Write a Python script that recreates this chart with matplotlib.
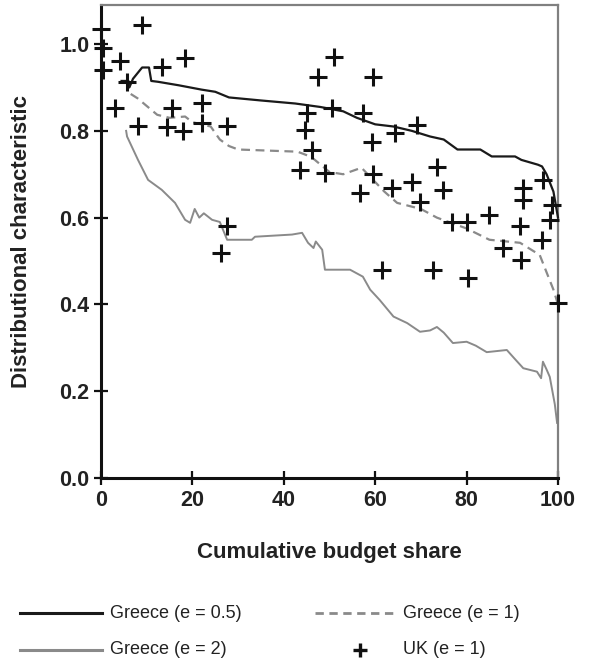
import numpy as np
import matplotlib
matplotlib.use('Agg')
import matplotlib.pyplot as plt
from matplotlib.lines import Line2D

plt.rcParams['font.family'] = ['Liberation Sans', 'DejaVu Sans']

# Greece, e = 0.5 (black solid)
g05_x = [4.5, 6, 6.2, 7, 9, 10.5, 11, 12.5, 17, 22, 25, 28, 35, 42.5, 48, 53, 56, 60, 64, 68,
         72, 75, 78, 83, 85.5, 90.6, 92, 95.6, 96.5, 97.5, 99, 100]
g05_y = [0.915, 0.915, 0.90, 0.92, 0.946, 0.946, 0.915, 0.913, 0.905, 0.895, 0.89, 0.877, 0.87,
         0.863, 0.855, 0.845, 0.83, 0.815, 0.81, 0.80, 0.787, 0.78, 0.757, 0.757, 0.741, 0.741,
         0.733, 0.722, 0.718, 0.70, 0.66, 0.60]

# Greece, e = 1 (grey dashed)
g1_x = [6.5, 8, 12.3, 15, 18.4, 20, 24, 26, 28, 30, 43, 46, 50, 53, 57, 62, 64.8, 70, 73.5,
        80, 85, 91.7, 96, 99, 100]
g1_y = [0.885, 0.875, 0.837, 0.83, 0.833, 0.82, 0.81, 0.78, 0.765, 0.757, 0.752, 0.74,
        0.705, 0.70, 0.715, 0.66, 0.634, 0.62, 0.60, 0.575, 0.549, 0.542, 0.514, 0.434, 0.40]

# Greece, e = 2 (grey solid)
g2_x = [5.5, 5.7, 8.1, 10.3, 13.3, 16.2, 18.4, 19.5, 20.5, 21.5, 22.5, 24.3, 26, 27.6,
        33, 33.7, 41.8, 44, 45.3, 46.5, 47, 48.4, 49, 54.5, 57.3, 58.9, 61, 64, 67, 69.8, 72,
        73.5, 75, 77, 80, 82, 84.4, 88.8, 90.5, 92.4, 95.4, 96.3, 96.7, 97.5, 98.2, 99.3, 99.8]
g2_y = [0.80, 0.787, 0.733, 0.687, 0.664, 0.634, 0.595, 0.588, 0.62, 0.60,
        0.61, 0.595, 0.59, 0.549, 0.549, 0.556, 0.561, 0.565, 0.542, 0.53, 0.545, 0.526, 0.48,
        0.48, 0.464, 0.434, 0.41, 0.372, 0.357, 0.337, 0.34, 0.348, 0.335, 0.311, 0.314, 0.305,
        0.29, 0.295, 0.275, 0.253, 0.245, 0.23, 0.268, 0.25, 0.233, 0.17, 0.127]

# UK, e = 1 (crosses)
uk_x = [0.0, 8.9, 0.5, 4.2, 0.4, 13.3, 18.4, 5.6, 3.1, 8.1, 15.5, 22.0, 14.4, 22.0, 18.0, 27.5,
        27.5, 26.3, 47.5, 51.0, 45.0, 44.6, 46.1, 43.5, 49.0, 50.5, 59.5, 57.3, 64.3, 69.1, 59.2,
        73.5, 56.7, 63.6, 68.0, 59.5, 74.8, 69.8, 76.7, 80.0, 84.8, 88.0, 92.0, 96.4, 91.7, 98.3,
        98.6, 92.4, 96.8, 92.3, 61.4, 72.7, 80.4, 100.0]
uk_y = [1.035, 1.045, 0.99, 0.96, 0.94, 0.946, 0.969, 0.913, 0.853, 0.812, 0.853, 0.864, 0.81,
        0.819, 0.80, 0.812, 0.58, 0.518, 0.925, 0.971, 0.842, 0.803, 0.757, 0.71, 0.703, 0.853,
        0.925, 0.842, 0.796, 0.814, 0.775, 0.717, 0.657, 0.669, 0.683, 0.70, 0.664, 0.637, 0.591,
        0.591, 0.607, 0.53, 0.503, 0.549, 0.58, 0.595, 0.63, 0.668, 0.687, 0.641, 0.48, 0.48,
        0.461, 0.403]

fig = plt.figure(figsize=(6.05, 6.65), dpi=100)
ax = fig.add_axes([101/605, 1 - 478/665, 457/605, 473/665])

ax.plot(g2_x, g2_y, color='#8a8a8a', lw=1.4, clip_on=False, zorder=2)
ax.plot(g1_x, g1_y, color='#8a8a8a', lw=1.6, ls=(0, (4, 2.5)), clip_on=False, zorder=2)
ax.plot(g05_x, g05_y, color='#1a1a1a', lw=1.6, clip_on=False, zorder=3)
ax.plot(uk_x, uk_y, ls='none', marker='+', ms=13, mew=2.2, color='#111111', clip_on=False, zorder=4)

ax.set_xlim(0, 100)
ax.set_ylim(0, 1.09)
ax.set_xticks([0, 20, 40, 60, 80, 100])
ax.set_yticks([0.0, 0.2, 0.4, 0.6, 0.8, 1.0])
ax.set_yticklabels(['0.0', '0.2', '0.4', '0.6', '0.8', '1.0'])
ax.tick_params(direction='inout', length=9.5, width=1.6, color='#111111', labelsize=15.5,
               labelcolor='#222222', pad=3.5)
ax.tick_params(axis='x', pad=4)
for lab in ax.get_xticklabels() + ax.get_yticklabels():
    lab.set_fontweight('bold')

for s in ['left', 'bottom']:
    ax.spines[s].set_linewidth(2.2)
    ax.spines[s].set_color('#111111')
for s in ['top', 'right']:
    ax.spines[s].set_linewidth(1.6)
    ax.spines[s].set_color('#808080')

ax.set_xlabel('Cumulative budget share', fontsize=16, fontweight='bold', color='#222222')
ax.set_ylabel('Distributional characteristic', fontsize=16, fontweight='bold', color='#222222')
ax.xaxis.set_label_coords(0.5, -0.135)
ax.yaxis.set_label_coords(-0.15, 0.5)

# legend drawn below the axes
def fy(py):
    return 1 - py / 665

def fx(px):
    return px / 605

leg = [
    (20, 102, 613, dict(color='#1a1a1a', lw=2.2), None, 'Greece (e = 0.5)', 110),
    (315, 397, 613, dict(color='#8a8a8a', lw=2.0, ls=(0, (3, 2))), None, 'Greece (e = 1)', 403),
    (20, 102, 650, dict(color='#8a8a8a', lw=2.2), None, 'Greece (e = 2)', 110),
    (360, 360, 650, dict(color='#111111', ls='none', marker='+', ms=10, mew=2.4), 1, 'UK (e = 1)', 403),
]
for x0, x1, py, kw, single, txt, tx in leg:
    if single:
        fig.add_artist(Line2D([fx(x0)], [fy(py)], transform=fig.transFigure, **kw))
    else:
        fig.add_artist(Line2D([fx(x0), fx(x1)], [fy(py), fy(py)], transform=fig.transFigure, **kw))
    fig.text(fx(tx), fy(py), txt, fontsize=13, color='#222222', va='center', ha='left')

fig.savefig('out.png', dpi=100)
